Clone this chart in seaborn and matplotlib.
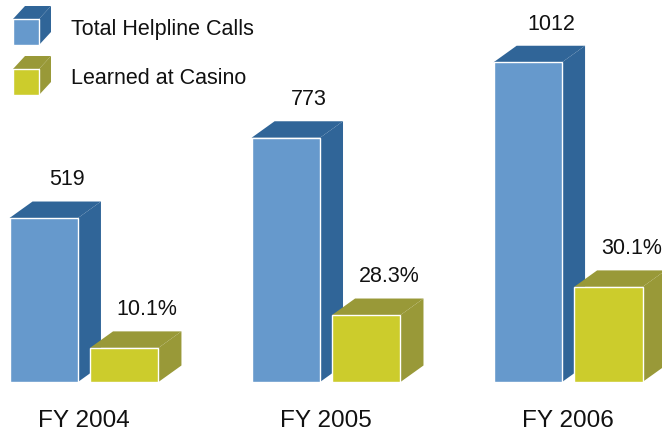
import pandas as pd
import matplotlib.pyplot as plt
import seaborn as sns
from matplotlib.patches import Polygon

# datos
years = ['FY 2004', 'FY 2005', 'FY 2006']
total_calls = [519, 773, 1012]
casino_bar = [108, 212, 301]      # altura dibujada de la barra amarilla
casino_pct = [10.1, 28.3, 30.1]   # etiqueta de la barra amarilla
series = ['Total Helpline Calls', 'Learned at Casino']

front_colors = ['#6699cc', '#cccc2c']
dark_colors = ['#306598', '#999938']

df = pd.DataFrame({
    'year': years * 2,
    'serie': [series[0]] * 3 + [series[1]] * 3,
    'valor': total_calls + casino_bar,
})

sns.set_style('white')
plt.rcParams['font.family'] = ['Liberation Sans', 'DejaVu Sans']

fig = plt.figure(figsize=(6.62, 4.36), dpi=100)
ax = fig.add_axes([0, 54 / 436, 1, 382 / 436])

sns.barplot(data=df, x='year', y='valor', hue='serie', hue_order=series,
            palette=front_colors, saturation=1, width=0.665, gap=0.15,
            edgecolor='white', linewidth=1, legend=False, ax=ax)

ax.set_xlim(-0.347, 2.388)
ax.set_ylim(0, 1209)
px_x = 242          # pixeles por categoria
px_y = 0.316        # pixeles por unidad
dx = 23 / px_x
dy = 16.5 / px_y

# caras laterales y superiores (efecto 3D)
for i, cont in enumerate(ax.containers):
    labels = [str(v) for v in total_calls] if i == 0 else [f'{p}%' for p in casino_pct]
    for bar, lab in zip(cont.patches, labels):
        x = bar.get_x()
        w = bar.get_width()
        h = bar.get_height()
        bar.set_zorder(3 + 2 * i)
        top = Polygon([(x, h), (x + dx, h + dy), (x + w + dx, h + dy), (x + w, h)],
                      closed=True, facecolor=dark_colors[i], edgecolor='none',
                      zorder=2 + 2 * i)
        side = Polygon([(x + w, 0), (x + w, h), (x + w + dx, h + dy), (x + w + dx, dy)],
                       closed=True, facecolor=dark_colors[i], edgecolor='none',
                       zorder=2 + 2 * i)
        ax.add_patch(top)
        ax.add_patch(side)
        ax.annotate(lab, (x + w / 2 + dx, h + dy), xytext=(0, 8),
                    textcoords='offset points', ha='center', va='bottom',
                    fontsize=15.5, color='#111111', zorder=10)

ax.set_xlabel('')
ax.set_ylabel('')
ax.set_yticks([])
ax.tick_params(axis='x', length=0, pad=20, labelsize=17.5, colors='#111111')
sns.despine(ax=ax, left=True, bottom=True)

# leyenda con cubos
lax = fig.add_axes([0, 0, 1, 1])
lax.set_xlim(0, 662)
lax.set_ylim(436, 0)
lax.axis('off')
lax.patch.set_alpha(0)
for i, (name, y0) in enumerate(zip(series, [19, 69])):
    x0, s, ddx, ddy = 13, 26, 12, 13
    lax.add_patch(Polygon([(x0, y0), (x0 + ddx, y0 - ddy), (x0 + s + ddx, y0 - ddy), (x0 + s, y0)],
                          facecolor=dark_colors[i], edgecolor='none'))
    lax.add_patch(Polygon([(x0 + s, y0), (x0 + s + ddx, y0 - ddy), (x0 + s + ddx, y0 + s - ddy), (x0 + s, y0 + s)],
                          facecolor=dark_colors[i], edgecolor='none'))
    lax.add_patch(plt.Rectangle((x0, y0), s, s, facecolor=front_colors[i],
                                edgecolor='white', linewidth=1))
    lax.text(71, y0 + s / 2 - 3, name, ha='left', va='center', fontsize=15.5, color='#111111')

fig.savefig('out.png', dpi=100)
